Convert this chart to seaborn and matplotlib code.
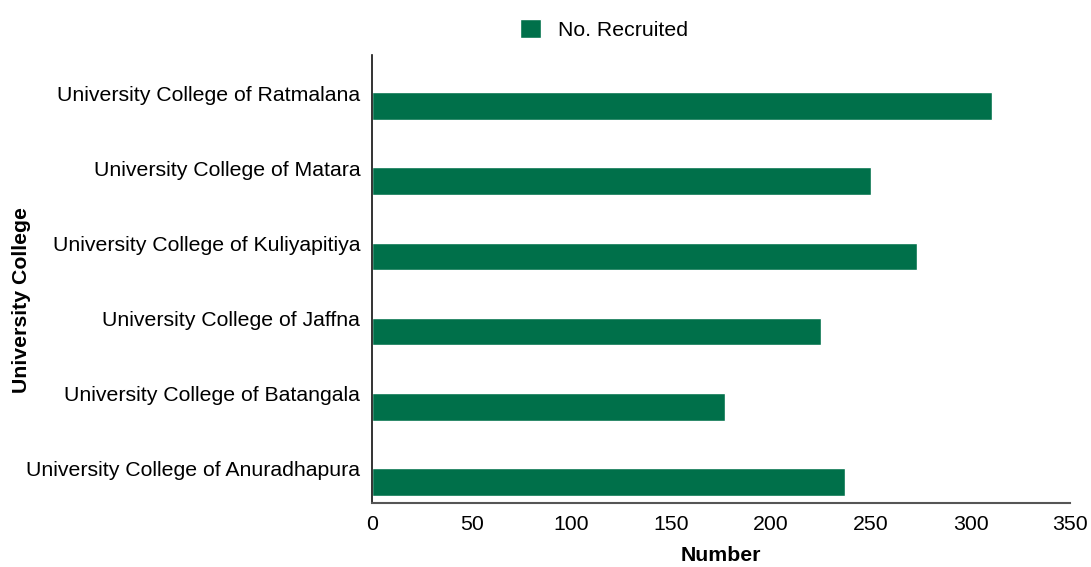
import matplotlib
matplotlib.use("Agg")
import matplotlib.pyplot as plt
import matplotlib.transforms as mtransforms
import seaborn as sns
import pandas as pd

colleges = [
    "University College of Ratmalana",
    "University College of Matara",
    "University College of Kuliyapitiya",
    "University College of Jaffna",
    "University College of Batangala",
    "University College of Anuradhapura",
]
recruited = [311, 250, 273, 225, 177, 237]

df = pd.DataFrame({"University College": colleges, "Number": recruited})

sns.set_theme(style="white")
plt.rcParams["font.family"] = ["Liberation Sans", "DejaVu Sans"]

color = "#00704A"
fig = plt.figure(figsize=(10.91, 5.67), dpi=100)
ax = fig.add_axes([0.341, 0.113, 0.640, 0.790])

sns.barplot(data=df, y="University College", x="Number", orient="h",
            color=color, width=0.37, saturation=1, ax=ax, label="No. Recruited")

ax.set_xlim(0, 350)
ax.set_ylim(5.28, -0.68)
ax.set_xticks(range(0, 351, 50))
ax.tick_params(axis="both", length=0, labelsize=15.3, colors="black")
ax.tick_params(axis="x", pad=8.5)
ax.tick_params(axis="y", pad=8.5)
off = mtransforms.ScaledTranslation(0, 13 / 100, fig.dpi_scale_trans)
for lbl in ax.get_yticklabels():
    lbl.set_transform(lbl.get_transform() + off)
ax.set_xlabel("Number", fontsize=15.3, fontweight="bold", color="black")
ax.set_ylabel("University College", fontsize=15.3, fontweight="bold", color="black")
ax.xaxis.set_label_coords(0.5, -0.097)
ax.yaxis.set_label_coords(-0.488, 0.453)

for s in ["top", "right"]:
    ax.spines[s].set_visible(False)
ax.spines["left"].set_color("#111111")
ax.spines["bottom"].set_color("#555555")
ax.spines["left"].set_linewidth(1.2)
ax.spines["bottom"].set_linewidth(1.5)

leg = ax.legend(loc="upper center", bbox_to_anchor=(0.332, 1.123), frameon=False,
                fontsize=15.3, handlelength=1.0, handleheight=1.0, handletextpad=0.8)
for t in leg.get_texts():
    t.set_color("black")

fig.savefig("out.png", dpi=100)
